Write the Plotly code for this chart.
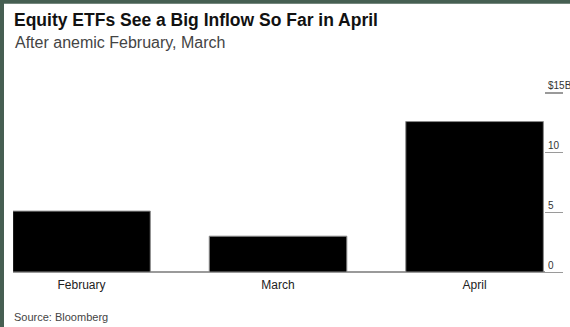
import plotly.graph_objects as go

months = ["February", "March", "April"]
inflows = [5.1, 3.0, 12.6]
tick_vals = [0, 5, 10, 15]
tick_text = ["0", "5", "10", "$15B"]

W, H = 570, 327
YMAX = 16.5
UNIT = 179 / 15.0          # pixels per $1B in the reference
L, R, B = 13, 7, 55
PH = YMAX * UNIT
T = H - B - PH
PW = W - L - R

def px(x):
    return (x - L) / PW

def py(y):
    return (H - B - y) / PH

fig = go.Figure()
fig.add_trace(go.Bar(
    x=months, y=inflows,
    marker=dict(color="#000000", line=dict(color="#8a8a8a", width=1)),
    xaxis="x", yaxis="y", hoverinfo="skip", showlegend=False,
))
# invisible helper trace to carry the right-hand tick axis
fig.add_trace(go.Scatter(
    x=[0, 1], y=[0, 15], mode="markers", marker=dict(opacity=0),
    xaxis="x2", yaxis="y2", hoverinfo="skip", showlegend=False,
))

font_family = "Liberation Sans, Arial, sans-serif"

fig.update_layout(
    width=W, height=H,
    margin=dict(l=L, r=R, t=T, b=B),
    paper_bgcolor="white", plot_bgcolor="white",
    bargap=0.3,
    font=dict(family=font_family, color="#333"),
    title=dict(
        text="<b>Equity ETFs See a Big Inflow So Far in April</b>",
        x=14 / W, xanchor="left", xref="container",
        y=1 - 20 / H, yanchor="middle", yref="container",
        font=dict(size=17.5, color="#111", family=font_family),
    ),
    xaxis=dict(
        domain=[0, 1], range=[-0.3486, 2.450], showgrid=False, showline=False,
        zeroline=False, ticks="", ticklabelstandoff=4,
        tickfont=dict(size=12, color="#222"), fixedrange=True,
    ),
    yaxis=dict(
        domain=[0, 1], range=[0, YMAX], showgrid=False, showticklabels=False,
        zeroline=True, zerolinecolor="#9a9a9a", zerolinewidth=1.5,
        showline=False, fixedrange=True,
    ),
    xaxis2=dict(
        domain=[px(545), 1.0], range=[0, 1], anchor="y2", visible=False,
        fixedrange=True,
    ),
    yaxis2=dict(
        domain=[0, 1], range=[0, YMAX], anchor="x2", side="left",
        tickvals=tick_vals, ticktext=tick_text,
        ticklabelposition="inside top",
        showgrid=True, gridcolor="#9a9a9a", gridwidth=1.5,
        zeroline=False, showline=False, ticks="",
        tickfont=dict(size=10, color="#333"), fixedrange=True,
    ),
    annotations=[
        dict(text="After anemic February, March", xref="paper", yref="paper",
             x=px(13), y=py(43), xanchor="left", yanchor="middle",
             showarrow=False, font=dict(size=16, color="#444")),
        dict(text="Source: Bloomberg", xref="paper", yref="paper",
             x=px(12), y=py(317), xanchor="left", yanchor="middle",
             showarrow=False, font=dict(size=11, color="#444")),
    ],
    shapes=[
        dict(type="rect", xref="paper", yref="paper",
             x0=px(-2), x1=px(W + 2), y0=py(-2), y1=py(4),
             fillcolor="#465f52", line=dict(width=0), layer="above"),
        dict(type="rect", xref="paper", yref="paper",
             x0=px(-2), x1=px(4), y0=py(-2), y1=py(H + 2),
             fillcolor="#465f52", line=dict(width=0), layer="above"),
    ],
)

fig.write_html(
    "out.html",
    config={"displayModeBar": False, "staticPlot": True},
    post_script="document.body.style.margin='0';document.body.style.overflow='hidden';",
)
